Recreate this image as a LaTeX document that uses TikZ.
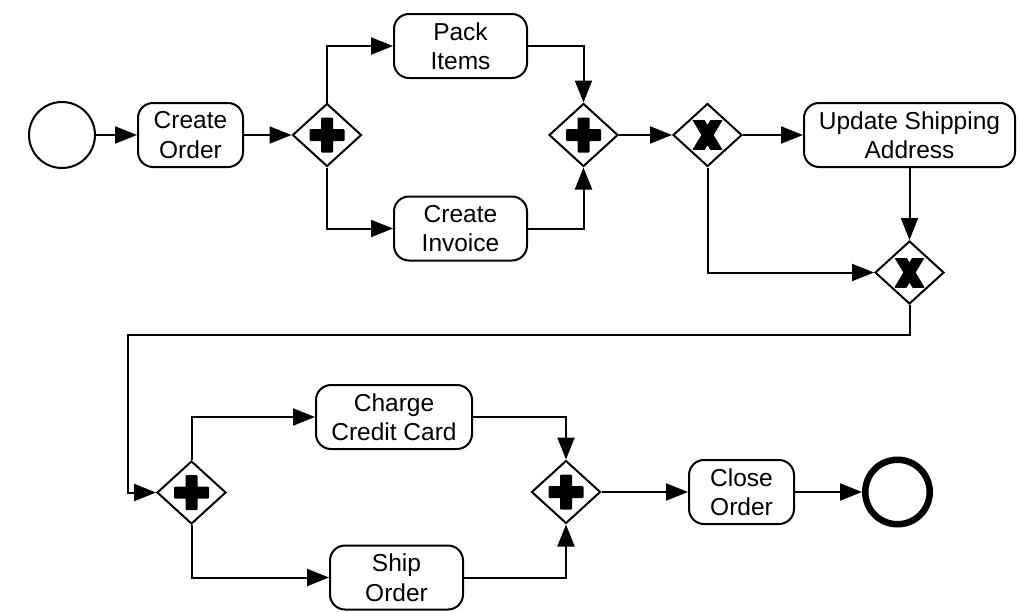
\documentclass[tikz,border=0pt]{standalone}
\usepackage{fontspec}
\setmainfont{Liberation Sans}
\usetikzlibrary{arrows.meta,shapes.geometric}

\tikzset{
  flow/.style={line width=2pt,-{Triangle[length=22pt,width=17pt]}},
  task/.style={draw,line width=2pt,rounded corners=15pt,align=center,inner sep=0pt,
    minimum height=64pt,font=\fontsize{24.5}{29.5}\selectfont},
  gateway/.style={draw,line width=2pt,diamond,inner sep=0pt,minimum width=69pt,minimum height=63pt},
  andgw/.style={gateway,path picture={
    \fill[shift={(path picture bounding box.center)},rounded corners=1pt]
      (-17.5pt,-6pt) rectangle (17.5pt,6pt)
      (-6pt,-17.5pt) rectangle (6pt,17.5pt);}},
  xorgw/.style={gateway,path picture={
    \begin{scope}[shift={(path picture bounding box.center)}]
      \clip (-15pt,-14.5pt) rectangle (15pt,14.5pt);
      \draw[line width=10.5pt] (-10.5pt,-17.4pt) -- (10.5pt,17.4pt)
                               (-10.5pt,17.4pt) -- (10.5pt,-17.4pt);
    \end{scope}}},
  startev/.style={draw,circle,line width=2pt,minimum size=66pt,inner sep=0pt},
  endev/.style={draw,circle,line width=6.5pt,minimum size=64.5pt,inner sep=0pt}
}

\begin{document}
\begin{tikzpicture}[x=1pt,y=-1pt]
  \path[fill=white,use as bounding box] (0,0) rectangle (1021,611);

  % first row: order creation and fulfilment split
  \node[startev] (start) at (62,135) {};
  \node[task,minimum width=105pt] (co) at (190.5,135) {Create\\Order};
  \node[andgw] (g1) at (327,135) {};
  \node[task,minimum width=133pt] (pack) at (460.5,46) {Pack\\Items};
  \node[task,minimum width=133pt] (inv) at (460.5,228.5) {Create\\Invoice};
  \node[andgw] (g2) at (583.5,135) {};
  \node[xorgw] (g3) at (707.5,135) {};
  \node[task,minimum width=211pt] (usa) at (909.5,135) {Update Shipping\\Address};
  \node[xorgw] (g4) at (909.5,272.5) {};

  % second row: payment, shipping and closing
  \node[andgw] (g5) at (191.5,492.5) {};
  \node[task,minimum width=156pt] (cc) at (394,417) {Charge\\Credit Card};
  \node[task,minimum width=133pt] (ship) at (396.5,577.5) {Ship\\Order};
  \node[andgw] (g6) at (566,492) {};
  \node[task,minimum width=105pt] (close) at (741.5,492) {Close\\Order};
  \node[endev] (end) at (897.5,492) {};

  \coordinate (b1) at (909.5,335);
  \coordinate (b2) at (128,335);

  % sequence flows
  \draw[flow] (start) -- (co);
  \draw[flow] (co) -- (g1);
  \draw[flow] (g1.north) |- (pack.west);
  \draw[flow] (g1.south) |- (inv.west);
  \draw[flow] (pack.east) -| (g2.north);
  \draw[flow] (inv.east) -| (g2.south);
  \draw[flow] (g2) -- (g3);
  \draw[flow] (g3) -- (usa);
  \draw[flow] (usa.south) -- (g4.north);
  \draw[flow] (g3.south) |- (g4.west);
  \draw[flow] (g4.south) -- (b1) -- (b2) |- (g5.west);
  \draw[flow] (g5.north) |- (cc.west);
  \draw[flow] (g5.south) |- (ship.west);
  \draw[flow] (cc.east) -| (g6.north);
  \draw[flow] (ship.east) -| (g6.south);
  \draw[flow] (g6) -- (close);
  \draw[flow] (close) -- (end);
\end{tikzpicture}
\end{document}
